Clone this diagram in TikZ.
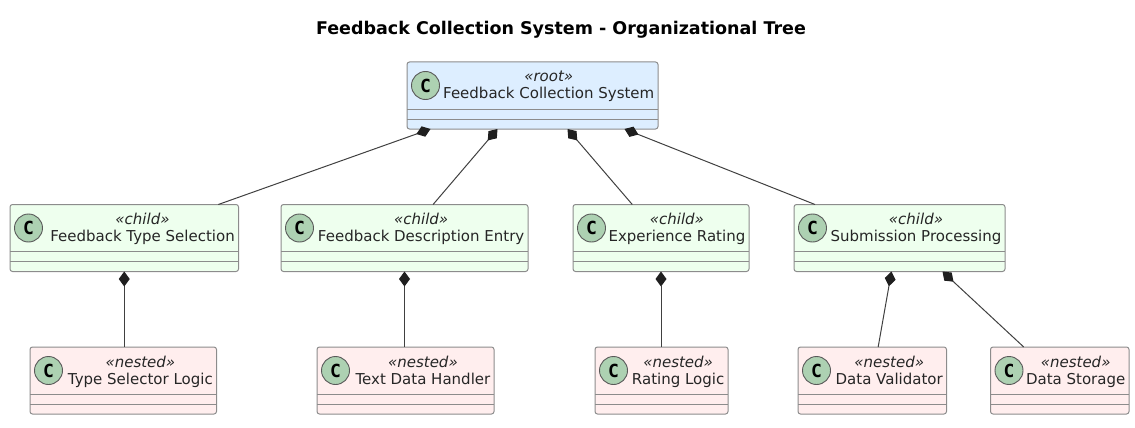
\documentclass[tikz,border=0pt]{standalone}
\usepackage{fontspec}
\setmainfont{DejaVu Sans}
\newfontfamily\spotfont{DejaVu Sans Mono}
\usetikzlibrary{arrows.meta,positioning}
\definecolor{rootfill}{HTML}{DDEEFF}
\definecolor{childfill}{HTML}{EEFFEE}
\definecolor{nestedfill}{HTML}{FFEEEE}
\definecolor{spotfill}{HTML}{ADD1B2}
\tikzset{
	classbox/.style={draw=black!45,line width=1pt,rectangle,rounded corners=2.5pt,minimum height=67pt,inner sep=0pt,outer sep=0pt},
	rootbox/.style={classbox,fill=rootfill},
	childbox/.style={classbox,fill=childfill},
	nestedbox/.style={classbox,fill=nestedfill},
	spot/.style={circle,draw=black!65,line width=0.9pt,fill=spotfill,minimum size=28pt,inner sep=0pt,font=\fontsize{18}{18}\selectfont\spotfont\bfseries},
	classtext/.style={align=center,inner sep=0pt,text=black!85,font=\fontsize{15}{17}\selectfont},
	part/.style={draw=black!45,line width=1pt},
	comp/.style={{Diamond[length=15pt,width=11pt,color=black!88]}-,draw=black!75,line width=1pt}
}
% one class: style, name, centre x, centre y, width, stereotype, text
\newcommand{\classnode}[7]{
	\node[#1,minimum width=#5pt] (#2) at (#3,#4) {};
	\draw[part] ([yshift=20pt]#2.south west) -- ([yshift=20pt]#2.south east);
	\draw[part] ([yshift=10pt]#2.south west) -- ([yshift=10pt]#2.south east);
	\node[spot] (#2-c) at ([xshift=18.5pt,yshift=-23.5pt]#2.north west) {C};
	\node[classtext,anchor=north east] (#2-t) at ([xshift=-3.5pt,yshift=-8.5pt]#2.north east) {\textit{«#6»}\\#7};
}
\begin{document}
\begin{tikzpicture}[x=1pt,y=-1pt]
	\useasboundingbox (0,0) rectangle (1135,428);
	\node[font=\fontsize{17.5}{20}\selectfont\bfseries] (title) at (561,30) {Feedback Collection System - Organizational Tree};

	\classnode{rootbox}{root}{532.5}{95.5}{251}{root}{Feedback Collection System}

	\classnode{childbox}{type}{124.25}{238}{228.5}{child}{Feedback Type Selection}
	\classnode{childbox}{desc}{404.5}{238}{247}{child}{Feedback Description Entry}
	\classnode{childbox}{rate}{661}{238}{176}{child}{Experience Rating}
	\classnode{childbox}{subm}{899.5}{238}{211}{child}{Submission Processing}

	\classnode{nestedbox}{typelogic}{123.25}{380.5}{186.5}{nested}{Type Selector Logic}
	\classnode{nestedbox}{textdata}{405.5}{380.5}{177}{nested}{Text Data Handler}
	\classnode{nestedbox}{ratelogic}{661.5}{380.5}{133}{nested}{Rating Logic}
	\classnode{nestedbox}{validator}{872.25}{380.5}{148.5}{nested}{Data Validator}
	\classnode{nestedbox}{storage}{1059.75}{380.5}{138.5}{nested}{Data Storage}

	\draw[comp] ([xshift=-102pt]root.south) -- (type);
	\draw[comp] ([xshift=-35pt]root.south) -- (desc);
	\draw[comp] ([xshift=35pt]root.south) -- (rate);
	\draw[comp] ([xshift=92pt]root.south) -- (subm);

	\draw[comp] (type.south) -- (type.south |- typelogic.north);
	\draw[comp] (desc.south) -- (desc.south |- textdata.north);
	\draw[comp] (rate.south) -- (rate.south |- ratelogic.north);
	\draw[comp] ([xshift=-8pt]subm.south) -- (validator);
	\draw[comp] ([xshift=43pt]subm.south) -- (storage);
\end{tikzpicture}
\end{document}
